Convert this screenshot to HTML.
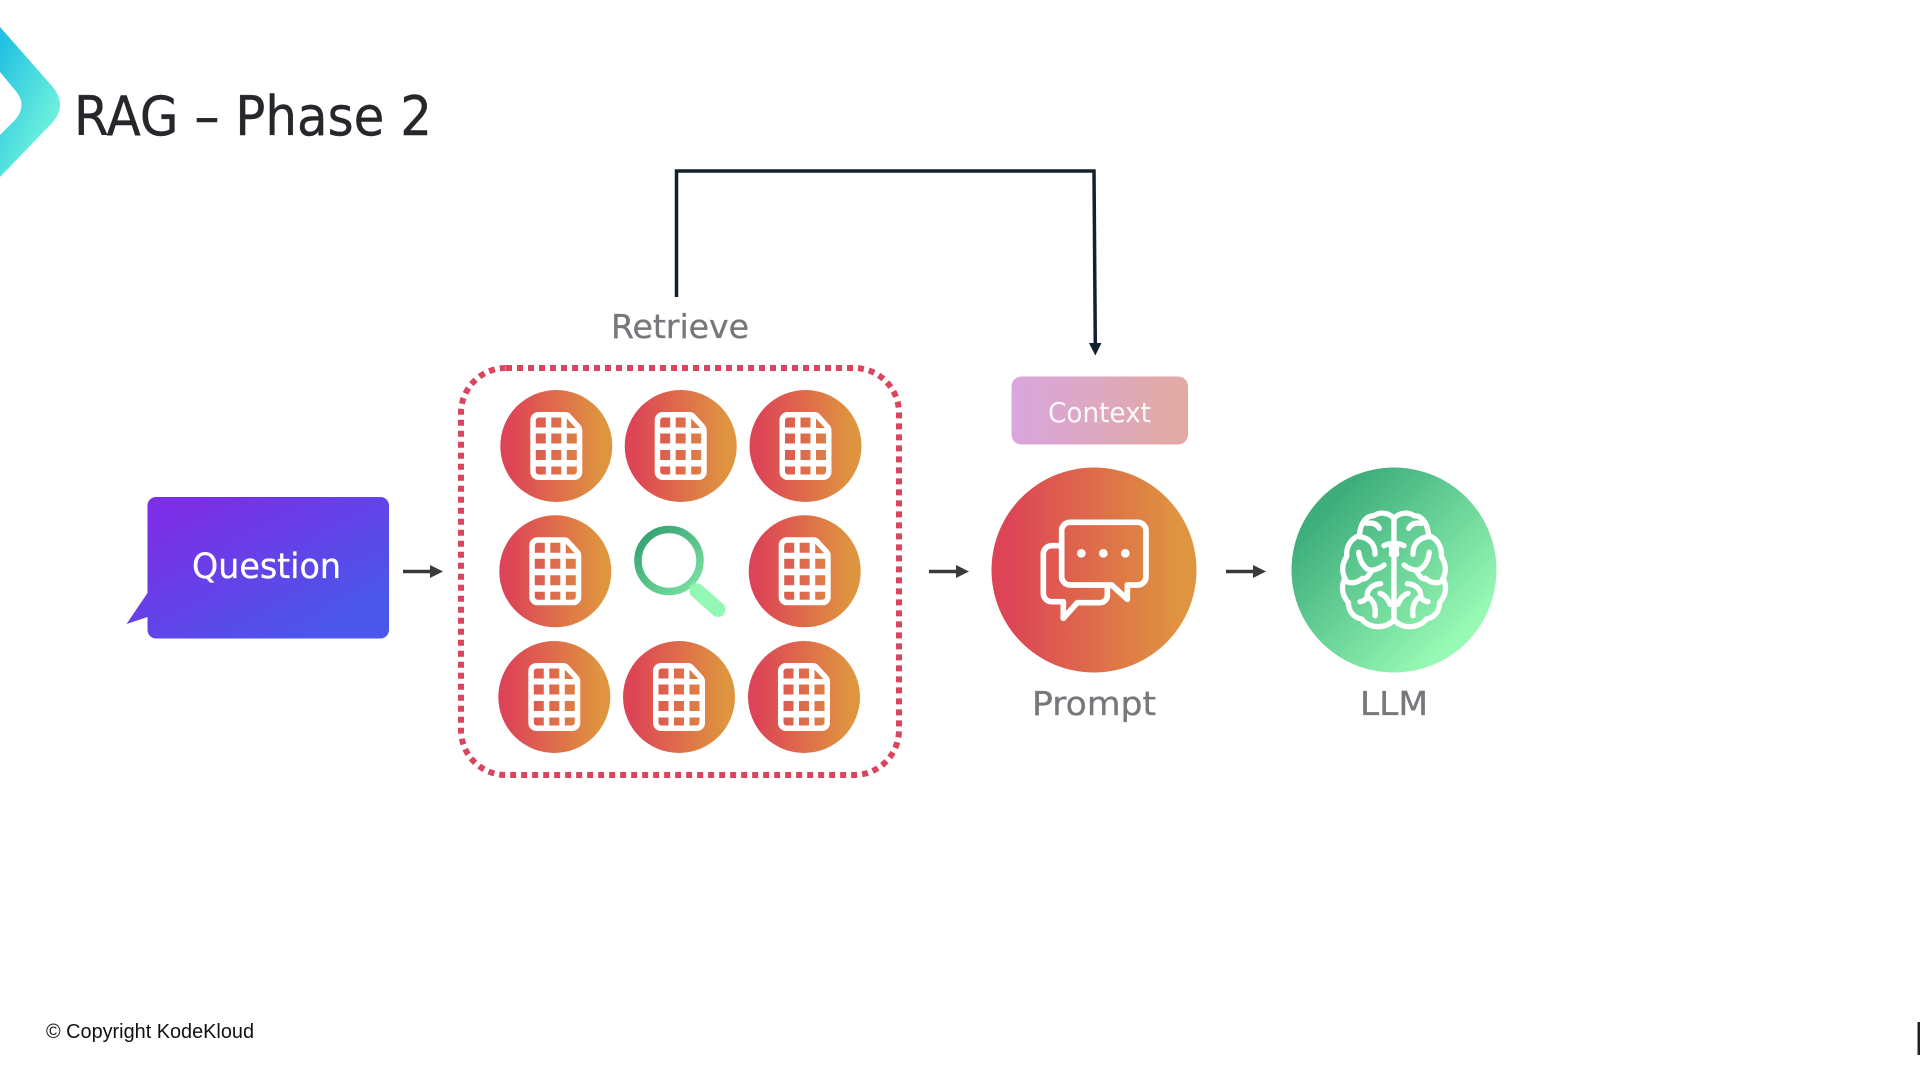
<!DOCTYPE html>
<html><head><meta charset="utf-8"><title>RAG – Phase 2</title>
<style>html,body{margin:0;padding:0;background:#fff;width:1920px;height:1080px;overflow:hidden}svg{display:block}text{font-family:"DejaVu Sans","Liberation Sans",sans-serif}</style></head>
<body>
<svg xmlns="http://www.w3.org/2000/svg" width="1920" height="1080" viewBox="0 0 1920 1080">
<defs>
<linearGradient id="logo" gradientUnits="userSpaceOnUse" x1="0" y1="40" x2="74" y2="73"><stop offset="0" stop-color="#1fc0e2"/><stop offset="1" stop-color="#6cf0dc"/></linearGradient>
<linearGradient id="org" x1="0" y1="0" x2="1" y2="0"><stop offset=".08" stop-color="#dd4456"/><stop offset=".92" stop-color="#df953f"/></linearGradient>
<linearGradient id="grn" x1="0" y1="0" x2="1" y2="1"><stop offset=".18" stop-color="#3dad7b"/><stop offset=".82" stop-color="#97f9b4"/></linearGradient>
<linearGradient id="mag" gradientUnits="userSpaceOnUse" x1="640" y1="530" x2="715" y2="610"><stop offset="0" stop-color="#2f9e6e"/><stop offset="1" stop-color="#93f8b3"/></linearGradient>
<linearGradient id="q" x1="0" y1="0" x2="1" y2="1"><stop offset=".15" stop-color="#7b2fe6"/><stop offset=".85" stop-color="#4a57ea"/></linearGradient>
<linearGradient id="ctx" x1="0" y1="0" x2="1" y2="0"><stop offset="0" stop-color="#d9a6de"/><stop offset="1" stop-color="#e2aaa0"/></linearGradient>
<g id="doc">
<path fill="#fff" fill-rule="evenodd" d="M-18,-34H9Q12,-34 14,-32L24,-21Q26,-19 26,-15V26a8,8 0 0 1 -8,8H-18a8,8 0 0 1 -8,-8V-26a8,8 0 0 1 8,-8Z
M-20.5,-28.5v10h10v-10h-7a3,3 0 0 0 -3,3Z
M-5,-28.5v10h10v-10Z
M10.500,-27.500v9.500h9Z
M-20.500,-12.500v10h10v-10Z M-5,-12.500v10h10v-10Z M10.500,-12.500v10h10v-10Z
M-20.500,4v10h10v-10Z M-5,4v10h10v-10Z M10.500,4v10h10v-10Z
M-20.500,20.500v5a3,3 0 0 0 3,3h7v-8Z M-5,20.500v8h10v-8Z M10.500,20.500v8h7a3,3 0 0 0 3,-3v-5Z"/>
</g>
<g id="arr"><path d="M0,0H28" stroke="#3a3a3c" stroke-width="3.500" fill="none"/><path d="M27,-6.500L40,0L27,6.500Z" fill="#3a3a3c"/></g>
<g id="halfbrain" fill="none" stroke="#fff" stroke-width="16" stroke-linecap="round" stroke-linejoin="round">
<path d="M222,70C205,52 180,50 162,62C140,62 122,80 118,122C92,130 78,155 80,185C66,205 64,232 76,252C60,272 68,305 85,322C85,350 102,368 125,372C140,395 190,408 222,375"/>
<path d="M140,85C160,82 172,88 178,100"/>
<path d="M118,125C145,128 166,145 165,178"/>
<path d="M116,172C120,205 140,230 160,225C175,222 185,216 192,210"/>
<path d="M132,252C140,250 148,240 152,232"/>
<path d="M72,255C90,268 110,265 128,250"/>
<path d="M182,266C155,268 140,285 142,305C138,315 128,320 120,320"/>
<path d="M142,305C160,315 168,335 165,362"/>
<path d="M180,295C195,300 205,315 210,328"/>
<path d="M192,152C205,145 215,145 222,150"/>
<path d="M212,150C216,160 216,170 214,178"/>
</g>
</defs>

<!-- logo -->
<path d="M0,27L52,86Q68,105 52,123L0,177V135L15,120Q28,105 15,90L0,72Z" fill="url(#logo)"/>
<text x="74" y="135" font-size="54" fill="#26262b" stroke="#26262b" stroke-width=".4" textLength="358" lengthAdjust="spacingAndGlyphs">RAG – Phase 2</text>

<!-- connector -->
<path d="M676.500,297V171H1094L1095.300,345" fill="none" stroke="#12212f" stroke-width="3.500"/>
<path d="M1089,343H1101.500L1095.300,355.500Z" fill="#12212f"/>

<!-- question -->
<path d="M156,497H380.500a8.500,8.500 0 0 1 8.500,8.500V630a8.500,8.500 0 0 1 -8.500,8.500H156a8.500,8.500 0 0 1 -8.500,-8.500V617L126.500,624L147.500,593V505.500a8.500,8.500 0 0 1 8.500,-8.500Z" fill="url(#q)"/>
<text x="192" y="578" font-size="35" fill="#fff" stroke="#fff" stroke-width=".3" textLength="149" lengthAdjust="spacingAndGlyphs">Question</text>

<use href="#arr" transform="translate(403,571.500)"/>
<use href="#arr" transform="translate(929,571.500)"/>
<use href="#arr" transform="translate(1226,571.500)"/>

<!-- retrieve -->
<text x="611" y="338" font-size="33" fill="#77777c" stroke="#77777c" stroke-width=".3" textLength="138" lengthAdjust="spacingAndGlyphs">Retrieve</text>
<rect x="461" y="368" width="438" height="407" rx="45" ry="45" fill="none" stroke="#d9455f" stroke-width="6" stroke-dasharray="6 5"/>

<circle cx="556.300" cy="446" r="56" fill="url(#org)"/><use href="#doc" transform="translate(556.300,446)"/>
<circle cx="680.700" cy="446" r="56" fill="url(#org)"/><use href="#doc" transform="translate(680.700,446)"/>
<circle cx="805.500" cy="446" r="56" fill="url(#org)"/><use href="#doc" transform="translate(805.500,446)"/>
<circle cx="555.300" cy="571.300" r="56" fill="url(#org)"/><use href="#doc" transform="translate(555.300,571.300)"/>
<circle cx="804.700" cy="571.300" r="56" fill="url(#org)"/><use href="#doc" transform="translate(804.700,571.300)"/>
<circle cx="554.300" cy="697" r="56" fill="url(#org)"/><use href="#doc" transform="translate(554.300,697)"/>
<circle cx="679" cy="697" r="56" fill="url(#org)"/><use href="#doc" transform="translate(679,697)"/>
<circle cx="804" cy="697" r="56" fill="url(#org)"/><use href="#doc" transform="translate(804,697)"/>

<!-- magnifier -->
<circle cx="669" cy="560.500" r="31" fill="none" stroke="url(#mag)" stroke-width="7.500"/>
<path d="M691,584L696,589" stroke="#7fe9a6" stroke-width="8" fill="none"/>
<path d="M697,591L718,609.500" stroke="#93f8b3" stroke-width="15" stroke-linecap="round" fill="none"/>

<!-- context -->
<rect x="1011.500" y="376.500" width="176.500" height="68" rx="10" fill="url(#ctx)"/>
<text x="1048" y="422" font-size="28" fill="#fff" fill-opacity=".92" textLength="103" lengthAdjust="spacingAndGlyphs">Context</text>

<!-- prompt -->
<circle cx="1094" cy="570" r="102.500" fill="url(#org)"/>
<g transform="translate(1020,500) scale(.33333)" fill="none" stroke="#fff" stroke-width="17" stroke-linejoin="round" stroke-linecap="round">
<path d="M150,67H353a25,25 0 0 1 25,25V230a25,25 0 0 1 -25,25H322V298L275,255H150a25,25 0 0 1 -25,-25V92a25,25 0 0 1 25,-25Z"/>
<path d="M125,137H95a25,25 0 0 0 -25,25V280a25,25 0 0 0 25,25H130V355L172,308H240a22,22 0 0 0 22,-22V258"/>
<g fill="#fff" stroke="none"><circle cx="184" cy="160" r="13"/><circle cx="250" cy="160" r="13"/><circle cx="316" cy="160" r="13"/></g>
</g>
<text x="1032" y="715" font-size="33" fill="#77777c" stroke="#77777c" stroke-width=".3" textLength="124" lengthAdjust="spacingAndGlyphs">Prompt</text>

<!-- llm -->
<circle cx="1394" cy="570" r="102.500" fill="url(#grn)"/>
<g transform="translate(1320,495) scale(.33333)">
<use href="#halfbrain"/>
<use href="#halfbrain" transform="translate(444,0) scale(-1,1)"/>
<path d="M222,65V378" stroke="#fff" stroke-width="16" fill="none"/>
</g>
<text x="1360" y="715" font-size="33" fill="#77777c" stroke="#77777c" stroke-width=".3" textLength="68" lengthAdjust="spacingAndGlyphs">LLM</text>

<!-- footer -->
<text x="46" y="1038" font-size="20" fill="#111" style="font-family:'Liberation Sans',sans-serif" textLength="208" lengthAdjust="spacingAndGlyphs">© Copyright KodeKloud</text>
<rect x="1917.500" y="1022" width="2.500" height="33" fill="#222"/>
</svg>
</body></html>
